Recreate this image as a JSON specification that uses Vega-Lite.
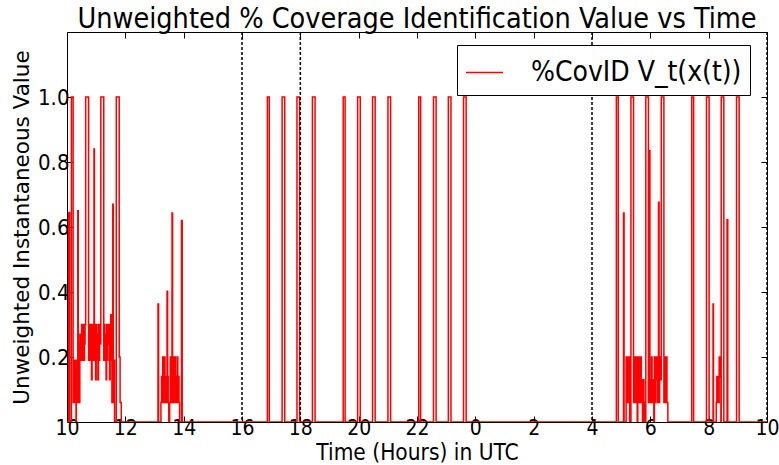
{
 "$schema": "https://vega.github.io/schema/vega-lite/v6.json",
 "width": 700,
 "height": 390,
 "autosize": {"type": "none"},
 "padding": {"left": 67, "top": 32, "right": 12, "bottom": 43},
 "background": "white",
 "title": {"text": "Unweighted % Coverage Identification Value vs Time", "fontSize": 28.5, "font": "DejaVu Sans Condensed, DejaVu Sans", "fontWeight": "normal", "color": "black", "offset": -2, "anchor": "middle"},
 "config": {"view": {"stroke": "black", "strokeWidth": 1}, "font": "DejaVu Sans"},
 "resolve": {"axis": {"x": "independent", "y": "independent"}},
 "layer": [
  {
   "data": {"values": [
    {"t":0,"v":0},{"t":0.06,"v":0.645},{"t":0.09,"v":0},{"t":0.15,"v":1},{"t":0.21,"v":0.06},{"t":0.23,"v":0.19},{"t":0.25,"v":0.06},{"t":0.27,"v":0.14},{"t":0.29,"v":0.19},{"t":0.31,"v":0},{"t":0.32,"v":0.06},{"t":0.34,"v":0.19},{"t":0.36,"v":0.06},{"t":0.37,"v":0.65},{"t":0.385,"v":0.06},{"t":0.40,"v":0.24},{"t":0.42,"v":0.06},{"t":0.44,"v":0.27},{"t":0.46,"v":0.19},{"t":0.48,"v":0.24},{"t":0.50,"v":0.3},{"t":0.52,"v":0.19},{"t":0.54,"v":0.27},{"t":0.56,"v":0.3},{"t":0.58,"v":0.19},{"t":0.60,"v":0.24},{"t":0.62,"v":0.3},{"t":0.64,"v":1},{"t":0.74,"v":0.19},{"t":0.76,"v":0.3},{"t":0.78,"v":0.19},{"t":0.80,"v":0.3},{"t":0.82,"v":0.24},{"t":0.84,"v":0.13},{"t":0.86,"v":0.3},{"t":0.88,"v":0.19},{"t":0.90,"v":0.27},{"t":0.925,"v":0.84},{"t":0.94,"v":0.19},{"t":0.96,"v":0.3},{"t":0.98,"v":0.13},{"t":1.00,"v":0.3},{"t":1.02,"v":0.19},{"t":1.04,"v":0.27},{"t":1.06,"v":0.13},{"t":1.08,"v":0.3},{"t":1.10,"v":0.19},{"t":1.12,"v":0.3},{"t":1.14,"v":0.24},{"t":1.16,"v":1},{"t":1.26,"v":0.19},{"t":1.28,"v":0.3},{"t":1.30,"v":0.19},{"t":1.32,"v":0.27},{"t":1.34,"v":0.13},{"t":1.36,"v":0.3},{"t":1.38,"v":0.19},{"t":1.40,"v":0.3},{"t":1.42,"v":0.24},{"t":1.44,"v":0.3},{"t":1.46,"v":0.13},{"t":1.48,"v":0.24},{"t":1.50,"v":0.33},{"t":1.52,"v":0.19},{"t":1.54,"v":0.06},{"t":1.57,"v":0.67},{"t":1.585,"v":0.06},{"t":1.61,"v":0.19},{"t":1.63,"v":0},{"t":1.69,"v":1},{"t":1.79,"v":0.2},{"t":1.82,"v":0.06},{"t":1.86,"v":0},
    {"t":3.12,"v":0.363},{"t":3.14,"v":0},{"t":3.22,"v":0.06},{"t":3.24,"v":0.14},{"t":3.26,"v":0.06},{"t":3.28,"v":0.2},{"t":3.30,"v":0.06},{"t":3.32,"v":0.14},{"t":3.34,"v":0.2},{"t":3.36,"v":0.06},{"t":3.38,"v":0.14},{"t":3.40,"v":0.06},{"t":3.43,"v":0.402},{"t":3.45,"v":0.14},{"t":3.47,"v":0.06},{"t":3.49,"v":0},{"t":3.52,"v":0.06},{"t":3.54,"v":0.2},{"t":3.56,"v":0.06},{"t":3.58,"v":0.14},{"t":3.60,"v":0.643},{"t":3.62,"v":0.06},{"t":3.64,"v":0.2},{"t":3.66,"v":0.06},{"t":3.68,"v":0.14},{"t":3.70,"v":0.2},{"t":3.72,"v":0.06},{"t":3.74,"v":0.14},{"t":3.76,"v":0.06},{"t":3.78,"v":0.2},{"t":3.80,"v":0.06},{"t":3.82,"v":0.14},{"t":3.84,"v":0.06},{"t":3.86,"v":0},{"t":3.925,"v":0.62},{"t":3.95,"v":0},
    {"t":6.87,"v":1},{"t":6.935,"v":0},{"t":7.375,"v":1},{"t":7.465,"v":0},{"t":7.885,"v":1},{"t":7.975,"v":0},{"t":8.415,"v":1},{"t":8.505,"v":0},
    {"t":9.47,"v":1},{"t":9.535,"v":0},{"t":9.965,"v":1},{"t":10.055,"v":0},{"t":10.475,"v":1},{"t":10.565,"v":0},{"t":11.005,"v":1},{"t":11.095,"v":0},
    {"t":12.06,"v":1},{"t":12.125,"v":0},{"t":12.565,"v":1},{"t":12.655,"v":0},{"t":13.075,"v":1},{"t":13.165,"v":0},{"t":13.595,"v":1},{"t":13.685,"v":0},
    {"t":18.835,"v":1},{"t":18.90,"v":0},{"t":19.08,"v":0.643},{"t":19.10,"v":0},{"t":19.17,"v":0.2},{"t":19.19,"v":0.06},{"t":19.21,"v":0.13},{"t":19.23,"v":0.2},{"t":19.25,"v":0.06},{"t":19.27,"v":0.2},{"t":19.29,"v":0},{"t":19.335,"v":1},{"t":19.425,"v":0.06},{"t":19.45,"v":0.2},{"t":19.47,"v":0.13},{"t":19.49,"v":0.06},{"t":19.51,"v":0.2},{"t":19.53,"v":0.13},{"t":19.55,"v":0},{"t":19.57,"v":0.2},{"t":19.59,"v":0.06},{"t":19.61,"v":0.13},{"t":19.63,"v":0.2},{"t":19.65,"v":0.06},{"t":19.67,"v":0.2},{"t":19.69,"v":0.13},{"t":19.71,"v":0.06},{"t":19.73,"v":0},{"t":19.76,"v":0.13},{"t":19.78,"v":0.06},{"t":19.80,"v":0},{"t":19.845,"v":1},{"t":19.935,"v":0.06},{"t":19.97,"v":0.835},{"t":19.985,"v":0.06},{"t":20.00,"v":0.13},{"t":20.02,"v":0.06},{"t":20.04,"v":0.2},{"t":20.06,"v":0.13},{"t":20.08,"v":0.06},{"t":20.10,"v":0.13},{"t":20.12,"v":0},{"t":20.14,"v":0.2},{"t":20.16,"v":0.06},{"t":20.18,"v":0.2},{"t":20.20,"v":0.13},{"t":20.22,"v":0.2},{"t":20.24,"v":0.06},{"t":20.26,"v":0.2},{"t":20.28,"v":0.676},{"t":20.30,"v":0.06},{"t":20.32,"v":0.2},{"t":20.34,"v":0.13},{"t":20.375,"v":1},{"t":20.465,"v":0.06},{"t":20.49,"v":0.2},{"t":20.51,"v":0.13},{"t":20.53,"v":0.06},{"t":20.55,"v":0.2},{"t":20.57,"v":0.06},{"t":20.60,"v":0},
    {"t":21.42,"v":1},{"t":21.485,"v":0},{"t":21.925,"v":1},{"t":22.015,"v":0},{"t":22.15,"v":0.363},{"t":22.165,"v":0},{"t":22.26,"v":0.06},{"t":22.28,"v":0.14},{"t":22.30,"v":0.06},{"t":22.32,"v":0.14},{"t":22.34,"v":0.06},{"t":22.36,"v":0.2},{"t":22.38,"v":0.14},{"t":22.40,"v":0.2},{"t":22.42,"v":0},{"t":22.43,"v":1},{"t":22.52,"v":0},{"t":22.63,"v":0.622},{"t":22.655,"v":0},{"t":22.955,"v":1},{"t":23.045,"v":0},{"t":24,"v":0}
   ]},
   "mark": {"type": "line", "interpolate": "step-after", "strokeWidth": 1.5, "clip": true},
   "encoding": {
    "x": {"field": "t", "type": "quantitative", "scale": {"domain": [0, 24], "nice": false},
     "axis": {"values": [0,2,4,6,8,10,12,14,16,18,20,22,24], "labelExpr": "(datum.value + 10) % 24", "title": "Time (Hours) in UTC", "titleFontSize": 22.5, "titleFontWeight": "normal", "titleColor": "black", "titleFont": "DejaVu Sans Condensed, DejaVu Sans", "labelFontSize": 21, "labelFont": "DejaVu Sans Condensed, DejaVu Sans", "labelColor": "black", "grid": false, "domain": false, "tickSize": -6, "tickColor": "black", "labelPadding": 1, "titlePadding": 3, "labelFlush": false, "labelOverlap": false}},
    "y": {"field": "v", "type": "quantitative", "scale": {"domain": [0, 1.2], "nice": false},
     "axis": {"values": [0.2,0.4,0.6,0.8,1.0], "format": ".1f", "title": "Unweighted Instantaneous Value", "titleFontSize": 21.5, "titleFontWeight": "normal", "titleColor": "black", "titleFont": "DejaVu Sans", "labelFontSize": 22, "labelFont": "DejaVu Sans Condensed, DejaVu Sans", "labelColor": "black", "grid": false, "domain": false, "tickSize": -6, "tickColor": "black", "labelPadding": 4, "titlePadding": 4, "labelOverlap": false}},
    "color": {"datum": "%CovID V_t(x(t))", "scale": {"range": ["#ff0000"]},
     "legend": {"orient": "none", "legendX": 390, "legendY": 13, "title": null, "labelFontSize": 28, "labelFont": "DejaVu Sans Condensed, DejaVu Sans", "labelColor": "black", "symbolType": "stroke", "symbolStrokeWidth": 1.5, "symbolSize": 1369, "labelOffset": 27, "padding": 8, "strokeColor": "black", "fillColor": "white", "cornerRadius": 0, "labelLimit": 400}}
   }
  },
  {
   "data": {"values": [{"t": 6}, {"t": 8}, {"t": 18}, {"t": 24}]},
   "mark": {"type": "rule", "strokeDash": [3, 2], "color": "black", "strokeWidth": 1.5},
   "encoding": {"x": {"field": "t", "type": "quantitative", "axis": null}}
  },
  {
   "data": {"values": [{"t": 0, "v": 0}]},
   "mark": {"type": "point", "opacity": 0},
   "encoding": {
    "x": {"field": "t", "type": "quantitative", "axis": {"orient": "top", "values": [0,2,4,6,8,10,12,14,16,18,20,22,24], "labels": false, "title": null, "grid": false, "domain": false, "tickSize": -6, "tickColor": "black"}},
    "y": {"field": "v", "type": "quantitative", "axis": {"orient": "right", "values": [0.2,0.4,0.6,0.8,1.0], "labels": false, "title": null, "grid": false, "domain": false, "tickSize": -6, "tickColor": "black"}}
   }
  }
 ]
}
